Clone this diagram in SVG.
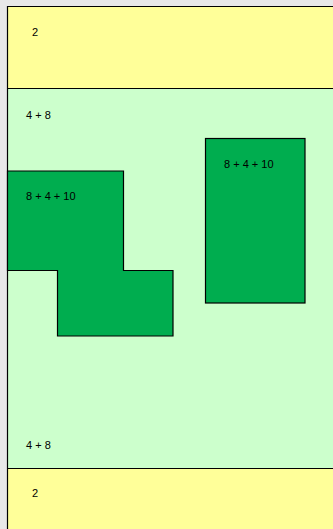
<svg xmlns="http://www.w3.org/2000/svg" width="333" height="529" viewBox="0 0 333 529">
<style>
text{font-family:"Liberation Sans",Arial,sans-serif;font-size:11px;fill:#000}
.band{fill:#ffff99}
.mid{fill:#ccffcc}
.blk{fill:#00ad4f;stroke:#000;stroke-width:1.2}
.ln{stroke:#000;stroke-width:1.2;fill:none}
</style>
<rect x="0" y="0" width="333" height="529" fill="#e8e8e8"/>
<g id="top-band">
<rect class="band" x="8" y="6.5" width="325" height="82"/>
<text x="32" y="36">2</text>
</g>
<g id="middle">
<rect class="mid" x="8" y="88.5" width="325" height="380"/>
<text x="26" y="118.5">4 + 8</text>
<text x="26" y="448.5">4 + 8</text>
</g>
<g id="bottom-band">
<rect class="band" x="8" y="468.5" width="325" height="61"/>
<text x="32" y="497">2</text>
</g>
<g id="borders">
<path class="ln" d="M7.5,529 V6.5 H333"/>
<path class="ln" d="M8,88.5 H333 M8,468.5 H333"/>
</g>
<g id="l-shape">
<path class="blk" d="M7.5,171 H123.5 V270.5 H173 V336 H57.5 V270.5 H7.5 Z"/>
<text x="26" y="200">8 + 4 + 10</text>
</g>
<g id="right-block">
<rect class="blk" x="205.5" y="138.5" width="99.5" height="164.5"/>
<text x="224" y="167.5">8 + 4 + 10</text>
</g>
</svg>
